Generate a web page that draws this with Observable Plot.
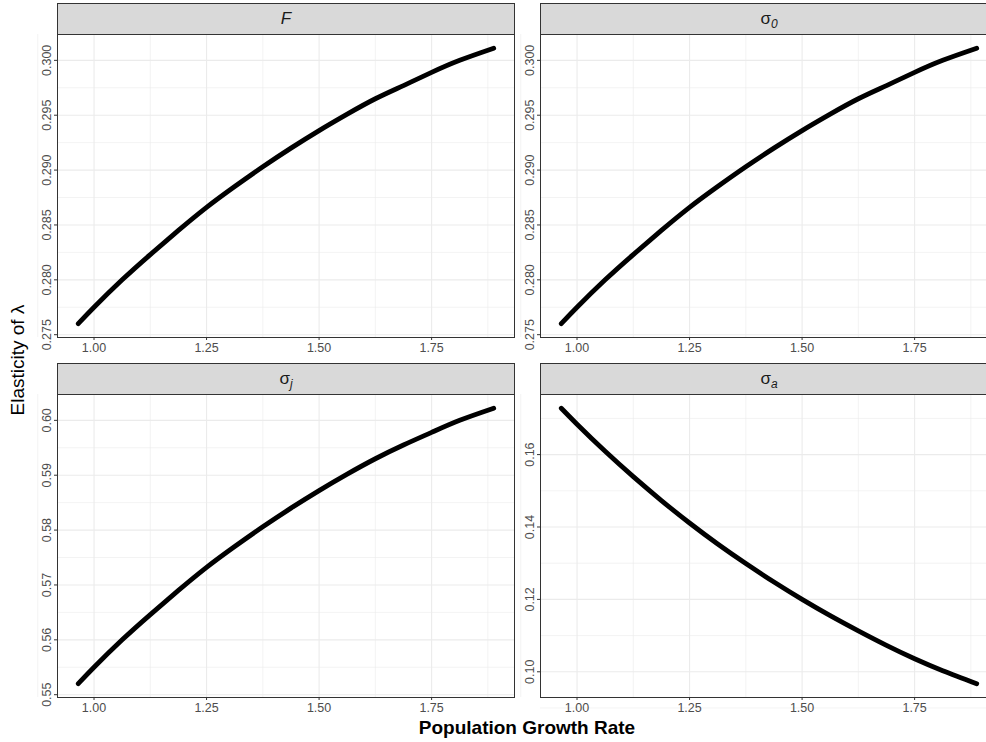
<!DOCTYPE html>
<html>
<head>
<meta charset="utf-8">
<script src="https://cdn.jsdelivr.net/npm/d3@7"></script>
<script src="https://cdn.jsdelivr.net/npm/@observablehq/plot@0.6"></script>
<style>
html, body { margin: 0; padding: 0; background: #fff; overflow: hidden; }
#root { position: relative; width: 986px; height: 742px; overflow: hidden; background: #fff;
  font-family: "Liberation Sans", Arial, sans-serif; }
.strip { position: absolute; box-sizing: border-box; background: #d9d9d9; border: 1px solid #333;
  height: 32px; text-align: center; font-size: 17px; color: #1a1a1a; line-height: 29px; }
.strip sub { font-size: 12px; font-style: italic; vertical-align: -4px; }
.panel { position: absolute; }
.ytitle { position: absolute; left: 18px; top: 360px; transform: translate(-50%, -50%) rotate(-90deg);
  white-space: nowrap; font-size: 19px; color: #000; }
.xtitle { position: absolute; left: 527px; top: 728px; transform: translate(-50%, -50%);
  white-space: nowrap; font-size: 19px; font-weight: bold; color: #000; }
</style>
</head>
<body>
<div id="root"></div>
<script>
// ---- data ----
const growthRate = [0.965, 1.0, 1.0625, 1.125, 1.1875, 1.25, 1.3125, 1.375, 1.4375, 1.5, 1.5625, 1.625, 1.6875, 1.75, 1.8125, 1.888];
const elasF      = [0.2760, 0.2775, 0.2800, 0.2823, 0.2845, 0.2866, 0.2885, 0.2903, 0.2920, 0.2936, 0.2951, 0.2965, 0.2977, 0.2989, 0.3000, 0.3011];
const elasSigma0 = [0.2760, 0.2775, 0.2800, 0.2823, 0.2845, 0.2866, 0.2885, 0.2903, 0.2920, 0.2936, 0.2951, 0.2965, 0.2977, 0.2989, 0.3000, 0.3011];
const elasSigmaJ = [0.5520, 0.5550, 0.5600, 0.5646, 0.5690, 0.5732, 0.5770, 0.5806, 0.5840, 0.5872, 0.5902, 0.5930, 0.5955, 0.5978, 0.6000, 0.6022];
const elasSigmaA = [0.1728, 0.1684, 0.1609, 0.1539, 0.1473, 0.1411, 0.1353, 0.1299, 0.1248, 0.1200, 0.1155, 0.1113, 0.1073, 0.1036, 0.1003, 0.0967];

const xTicks = [1.00, 1.25, 1.50, 1.75];
const xMinor = [0.875, 1.125, 1.375, 1.625, 1.875];
const ticksF = [0.275, 0.280, 0.285, 0.290, 0.295, 0.300];
const minorF = [0.2775, 0.2825, 0.2875, 0.2925, 0.2975];
const ticksJ = [0.55, 0.56, 0.57, 0.58, 0.59, 0.60];
const minorJ = [0.555, 0.565, 0.575, 0.585, 0.595];
const ticksA = [0.10, 0.12, 0.14, 0.16];
const minorA = [0.09, 0.11, 0.13, 0.15, 0.17];

const panels = [
  {label: "<i>F</i>", ys: elasF, ticks: ticksF, minor: minorF, fmt: ".3f", col: 0, row: 0},
  {label: "σ<sub>0</sub>", ys: elasSigma0, ticks: ticksF, minor: minorF, fmt: ".3f", col: 1, row: 0},
  {label: "σ<sub>j</sub>", ys: elasSigmaJ, ticks: ticksJ, minor: minorJ, fmt: ".2f", col: 0, row: 1},
  {label: "σ<sub>a</sub>", ys: elasSigmaA, ticks: ticksA, minor: minorA, fmt: ".2f", col: 1, row: 1}
];

const root = document.getElementById("root");
const PW = 457, PH = 303, ML = 57, MR = 5, MT = 5, MB = 30;
const colX = [57, 540], rowY = [34, 394];

function expand(ext) { const p = (ext[1] - ext[0]) * 0.05; return [ext[0] - p, ext[1] + p]; }

for (const p of panels) {
  const px = colX[p.col], py = rowY[p.row];
  const data = growthRate.map((x, i) => ({x, y: p.ys[i]}));
  const chart = Plot.plot({
    width: ML + PW + MR, height: MT + PH + MB,
    marginLeft: ML, marginRight: MR, marginTop: MT, marginBottom: MB,
    style: {background: "transparent", overflow: "visible", fontFamily: "'Liberation Sans', Arial, sans-serif", fontSize: "12.5px"},
    x: {domain: expand(d3.extent(growthRate))},
    y: {domain: expand(d3.extent(p.ys))},
    marks: [
      Plot.gridX(xMinor, {stroke: "#ebebeb", strokeOpacity: 1, strokeWidth: 0.6}),
      Plot.gridY(p.minor, {stroke: "#ebebeb", strokeOpacity: 1, strokeWidth: 0.6}),
      Plot.gridX(xTicks, {stroke: "#ebebeb", strokeOpacity: 1, strokeWidth: 1.1}),
      Plot.gridY(p.ticks, {stroke: "#ebebeb", strokeOpacity: 1, strokeWidth: 1.1}),
      Plot.line(data, {x: "x", y: "y", stroke: "#000", strokeWidth: 4.8, curve: "natural", strokeLinecap: "round"}),
      Plot.frame({stroke: "#333", strokeWidth: 1}),
      Plot.axisX(xTicks, {tickSize: 3, tickPadding: 3, tickFormat: d3.format(".2f"), stroke: "#333", fill: "#4d4d4d", label: null}),
      Plot.axisY(p.ticks, {tickSize: 3, tickPadding: 4, tickRotate: -90, tickFormat: d3.format(p.fmt), stroke: "#333", fill: "#4d4d4d", label: null})
    ]
  });
  chart.classList.add("panel");
  chart.style.left = (px - ML) + "px";
  chart.style.top = (py - MT) + "px";
  root.appendChild(chart);

  const strip = document.createElement("div");
  strip.className = "strip";
  strip.style.left = px + "px";
  strip.style.top = (py - 31) + "px";
  strip.style.width = (PW + 1) + "px";
  strip.innerHTML = p.label;
  root.appendChild(strip);
}

const yt = document.createElement("div");
yt.className = "ytitle";
yt.textContent = "Elasticity of λ";
root.appendChild(yt);

const xt = document.createElement("div");
xt.className = "xtitle";
xt.textContent = "Population Growth Rate";
root.appendChild(xt);
</script>
</body>
</html>
